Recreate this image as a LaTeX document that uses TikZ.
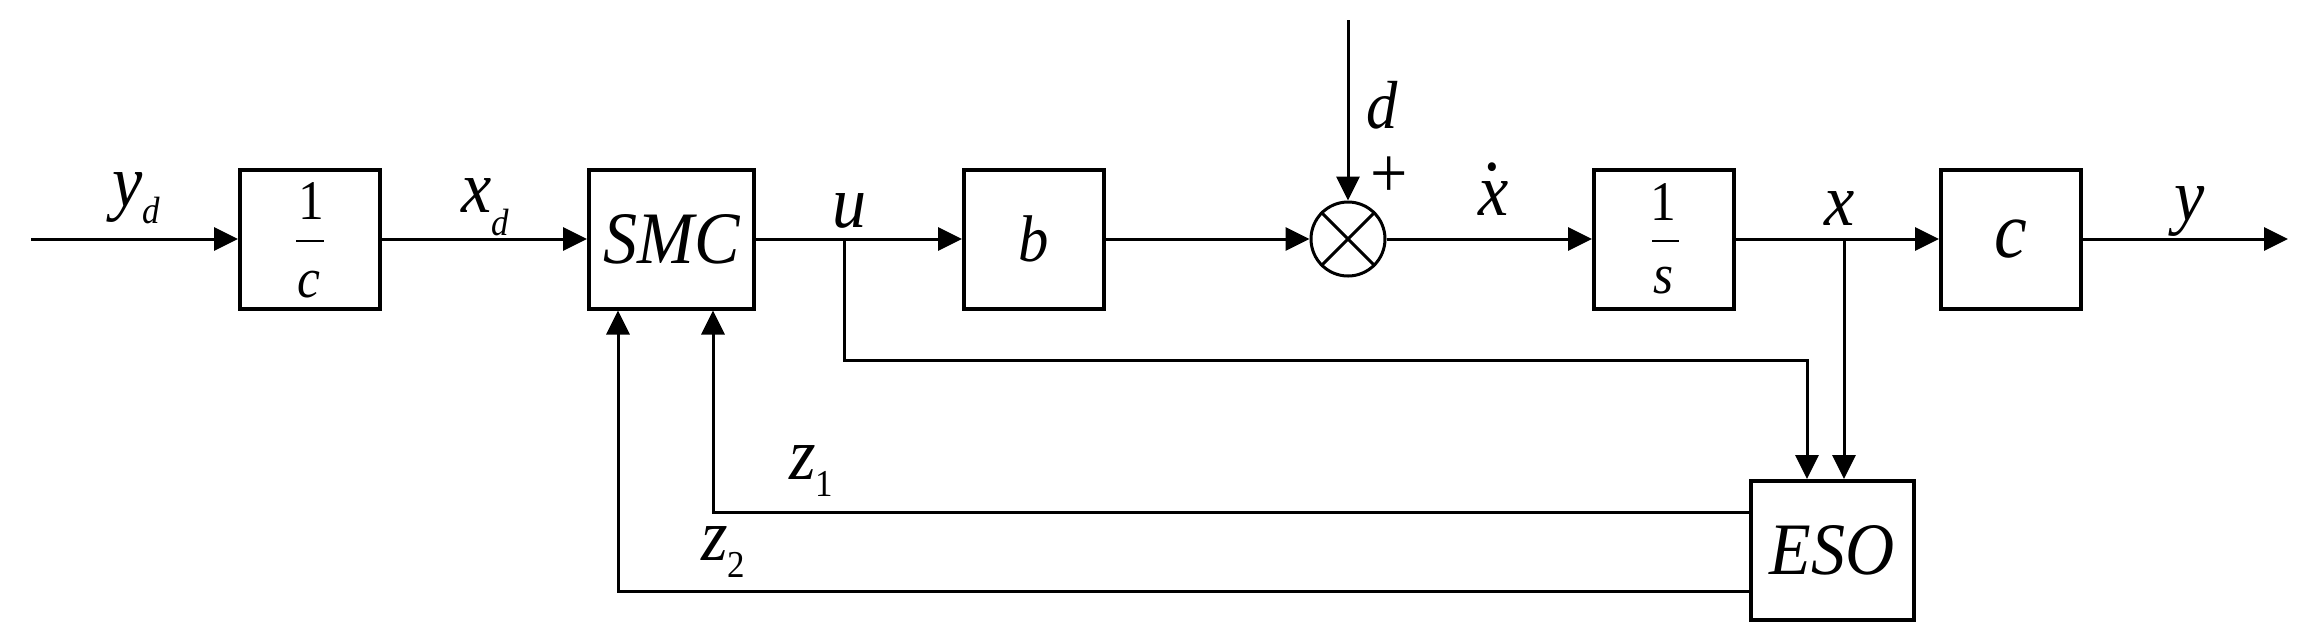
\documentclass[tikz,border=0pt]{standalone}
\usepackage{fontspec}
\setmainfont{Liberation Serif}[FakeStretch=0.92]
\usetikzlibrary{arrows.meta,shapes.geometric}
\newcommand{\lowsub}[2]{\raisebox{-#1}{\fontsize{19}{20}\selectfont #2}}
\newcommand{\dotx}{\ooalign{x\cr\hidewidth\raisebox{0.62em}{.}\hidewidth\cr}}
\begin{document}
\begin{tikzpicture}[x=0.5pt,y=-0.5pt,
  blk/.style={draw,line width=2pt,minimum width=70pt,minimum height=69.5pt,inner sep=0pt},
  ln/.style={line width=1.5pt},
  arr/.style={ln,-{Triangle[length=12pt,width=11.5pt]}},
  lbl/.style={inner sep=0pt,font=\fontsize{37}{40}\selectfont\itshape},
  frc/.style={inner sep=0pt,font=\fontsize{28}{30}\selectfont}
]
\useasboundingbox (0,0) rectangle (2309,639);
% blocks
\node[blk] (c1) at (310,239) {};
\node[blk,minimum width=82.5pt,font=\fontsize{37}{40}\selectfont\itshape] (smc) at (671.5,239) {SMC};
\node[blk,font=\fontsize{33}{36}\selectfont\itshape] (b) at (1034,239) {b};
\node[draw,circle,line width=1.5pt,minimum size=37pt,inner sep=0pt] (sum) at (1348,239) {};
\node[blk] (s1) at (1664,239) {};
\node[blk,font=\fontsize{40}{44}\selectfont\itshape] (cb) at (2011,239) {c};
\node[blk,minimum width=81.5pt,font=\fontsize{37}{40}\selectfont\itshape] (eso) at (1832,550.5) {ESO};
% sum cross
\draw[ln] (sum.45) -- (sum.225);
\draw[ln] (sum.135) -- (sum.315);
% fractions
\node[frc] (c1num) at (311,201) {1};
\draw[line width=1pt] (296,241) -- (324,241);
\node[frc,font=\fontsize{28}{30}\selectfont\itshape] (c1den) at (309,285) {c};
\node[frc] (s1num) at (1663,202) {1};
\draw[line width=1pt] (1652,241) -- (1679,241);
\node[frc,font=\fontsize{28}{30}\selectfont\itshape] (s1den) at (1664,281) {s};
% coordinates
\coordinate (in) at (31,239);
\coordinate (out) at (2288,239);
\coordinate (dtop) at (1348,20);
\coordinate (ub) at (844,239);
\coordinate (ux) at (1807,360);
\coordinate (xb) at (1844,239);
\coordinate (z1x) at (713,512);
\coordinate (z2x) at (618,591);
% connectors
\draw[arr] (in) -- (c1);
\draw[arr] (c1) -- (smc);
\draw[arr] (smc) -- (b);
\draw[arr] (b) -- (sum);
\draw[arr] (dtop) -- (sum);
\draw[arr] (sum) -- (s1);
\draw[arr] (s1) -- (cb);
\draw[arr] (cb) -- (out);
\draw[arr] (ub) |- (ux) -- (ux |- eso.north);
\draw[arr] (xb) -- (xb |- eso.north);
\draw[arr] (eso.west |- z1x) -| (smc.south -| z1x);
\draw[arr] (eso.west |- z2x) -| (smc.south -| z2x);
% labels
\node[lbl] (lyd) at (136,198) {y\lowsub{0.23em}{d}};
\node[lbl] (lxd) at (485,207) {x\lowsub{0.31em}{d}};
\node[lbl] (lu) at (850,211) {u};
\node[lbl,font=\fontsize{34}{36}\selectfont\itshape] (ld) at (1382,105) {d};
\node[inner sep=0pt,font=\fontsize{36}{40}\selectfont] (lplus) at (1389,177) {+};
\node[lbl] (lxdot) at (1494,199) {\dotx};
\node[lbl] (lx) at (1840,209) {x};
\node[lbl] (ly) at (2190,211) {y};
\node[lbl] (lz1) at (811,471) {z\lowsub{0.22em}{\upshape 1}};
\node[lbl] (lz2) at (723,552) {z\lowsub{0.22em}{\upshape 2}};
\end{tikzpicture}
\end{document}
